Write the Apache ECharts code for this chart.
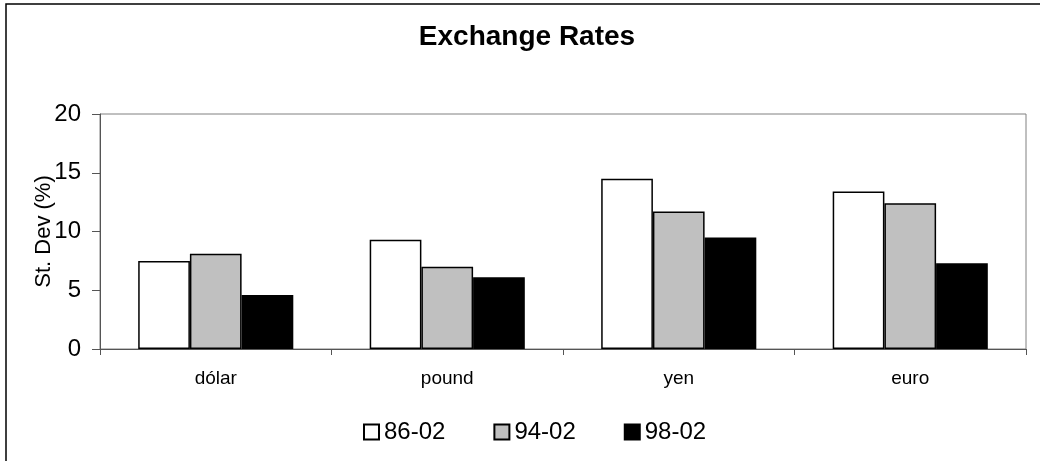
<!DOCTYPE html>
<html>
<head>
<meta charset="utf-8">
<style>
  html, body { margin: 0; padding: 0; background: #fff; }
  #chart { width: 1040px; height: 461px; }
</style>
<script src="https://cdn.jsdelivr.net/npm/echarts@6/dist/echarts.min.js"></script>
</head>
<body>
<div id="chart"></div>
<script>
// Exchange-rate volatility by currency and sample period
const categories = ['dólar', 'pound', 'yen', 'euro'];
const periods = ['86-02', '94-02', '98-02'];
const values8602 = [7.5, 9.3, 14.5, 13.4];
const values9402 = [8.1, 7.0, 11.7, 12.4];
const values9802 = [4.6, 6.1, 9.5, 7.3];
const yTicks = { min: 0, max: 20, interval: 5 };

const FONT = '"Liberation Sans", Arial, Helvetica, sans-serif';
const fills = ['#ffffff', '#c0c0c0', '#000000'];
const seriesValues = [values8602, values9402, values9802];

const chart = echarts.init(document.getElementById('chart'), null, { renderer: 'canvas' });

chart.setOption({
  backgroundColor: '#ffffff',
  animation: false,
  textStyle: { fontFamily: FONT, color: '#000' },
  title: {
    text: 'Exchange Rates',
    left: 527,
    textAlign: 'center',
    top: 23,
    padding: 0,
    textStyle: { fontFamily: FONT, fontSize: 28, fontWeight: 'bold', color: '#000' }
  },
  graphic: [{
    type: 'rect',
    shape: { x: 6, y: 4, width: 1100, height: 600 },
    style: { fill: 'none', stroke: '#000', lineWidth: 1.5 },
    silent: true
  }],
  legend: {
    data: periods,
    left: 363,
    top: 420,
    padding: 0,
    itemWidth: 15,
    itemHeight: 15,
    itemGap: 48,
    icon: 'rect',
    textStyle: { fontFamily: FONT, fontSize: 24, color: '#000', lineHeight: 24 }
  },
  grid: {
    left: 100,
    right: 14,
    top: 114,
    bottom: 112,
    show: true,
    borderColor: '#808080',
    borderWidth: 1,
    backgroundColor: 'transparent'
  },
  xAxis: {
    type: 'category',
    data: categories,
    axisLine: { lineStyle: { color: '#555', width: 1 } },
    axisTick: { show: true, length: 6, alignWithLabel: false, lineStyle: { color: '#555' } },
    axisLabel: { fontFamily: FONT, fontSize: 19, color: '#000', margin: 20 },
    splitLine: { show: false }
  },
  yAxis: {
    type: 'value',
    min: yTicks.min,
    max: yTicks.max,
    interval: yTicks.interval,
    name: 'St. Dev (%)',
    nameLocation: 'middle',
    nameGap: 45,
    nameMoveOverlap: false,
    nameRotate: 90,
    nameTextStyle: { fontFamily: FONT, fontSize: 22, color: '#000' },
    axisLine: { show: true, lineStyle: { color: '#555', width: 1 } },
    axisTick: { show: true, length: 8, lineStyle: { color: '#555' } },
    axisLabel: { fontFamily: FONT, fontSize: 24, color: '#000', margin: 19 },
    splitLine: { show: false }
  },
  series: periods.map((name, i) => ({
    name: name,
    type: 'bar',
    data: seriesValues[i],
    barGap: '0%',
    barCategoryGap: '33%',
    itemStyle: { color: fills[i], borderColor: '#000', borderWidth: 1.5 },
    emphasis: { disabled: true }
  }))
});
</script>
</body>
</html>
